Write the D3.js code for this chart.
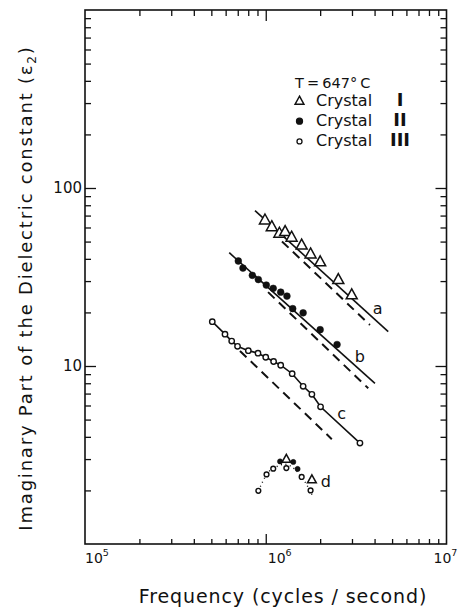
<!DOCTYPE html>
<html><head><meta charset="utf-8">
<script src="https://cdn.jsdelivr.net/npm/d3@7"></script>
<style>
body{margin:0;background:#fff}
svg{display:block}
text{font-family:"DejaVu Sans",sans-serif;fill:#111}
</style>
</head><body><div id="chart"></div>
<script>
// frequency (Hz), eps2
const crystalI = [[0.99e6,66.1],[1.08e6,60.6],[1.19e6,55.7],[1.28e6,56.9],[1.39e6,52.9],[1.58e6,47.8],[1.77e6,42.6],[2.0e6,38.5],[2.52e6,30.6],[2.99e6,25.1]];
const crystalII = [[0.705e6,38.9],[0.748e6,35.5],[0.843e6,32.3],[0.91e6,30.6],[1.007e6,28.5],[1.10e6,27.3],[1.21e6,26.0],[1.31e6,24.7],[1.41e6,21.0],[1.61e6,19.9],[2.0e6,16.0],[2.48e6,13.2]];
const crystalIII = [[0.506e6,17.75],[0.595e6,15.1],[0.648e6,13.8],[0.698e6,12.9],[0.801e6,12.2],[0.906e6,11.8],[1.0e6,11.2],[1.105e6,10.6],[1.21e6,10.1],[1.40e6,9.05],[1.61e6,7.69],[1.80e6,6.93],[2.01e6,5.90],[3.32e6,3.69]];
// curve d (mixed crystals)
const dCircles = [[0.91e6,1.99],[1.01e6,2.46],[1.10e6,2.65],[1.30e6,2.67],[1.58e6,2.38],[1.77e6,2.0]];
const dDots = [[1.20e6,2.91],[1.42e6,2.89],[1.50e6,2.64]];
const dTriangles = [[1.30e6,3.0],[1.80e6,2.30]];
const dTrail = [[0.91e6,1.99],[1.01e6,2.46],[1.10e6,2.65],[1.30e6,2.8],[1.58e6,2.38],[1.83e6,1.84]];
// fitted (solid) and reference (dashed) lines
const fitA = [[0.872e6,74.6],[4.76e6,15.6]];
const fitB = [[0.628e6,43.3],[4.02e6,7.99]];
const refA = [[1.23e6,50.1],[3.77e6,17.0]];
const refB = [[1.03e6,26.0],[3.69e6,7.49]];
const refC = [[0.72e6,12.15],[2.32e6,3.88]];
const curveLabels = [["a",4.16e6,21.1],["b",3.32e6,11.3],["c",2.63e6,5.42],["d",2.15e6,2.24]];
const xDecades = [1e5,1e6,1e7];
const yDecades = [1,10,100,1000];
const yLabels = [10,100];
const legendRows = [["tri","Crystal","I"],["dot","Crystal","II"],["circ","Crystal","III"]];

const W = 460, H = 612;
const svg = d3.select('#chart').append('svg').attr('width', W).attr('height', H);
const x = d3.scaleLog().domain([1e5,1e7]).range([85,446.5]);
const y = d3.scaleLog().domain([1,1000]).range([544,10]);

const minor = (decs) => decs.slice(0,-1).flatMap(d => d3.range(2,10).map(k => d*k));
const xMinor = minor(xDecades), yMinor = minor(yDecades);

function ticks(axis, t, vals, size) {
  const g = svg.append('g').attr('transform', t).call(axis.tickValues(vals).tickSize(size).tickFormat(''));
  g.select('.domain').remove();
  g.selectAll('line').attr('stroke','#111').attr('stroke-width',1.3);
}
const [x0,x1] = x.range(), [y0,y1] = y.range();
ticks(d3.axisBottom(x), `translate(0,${y0})`, xMinor, -5);
ticks(d3.axisBottom(x), `translate(0,${y0})`, [1e6], -10);
ticks(d3.axisTop(x), `translate(0,${y1})`, xMinor, -6);
ticks(d3.axisTop(x), `translate(0,${y1})`, [1e6], -11);
ticks(d3.axisLeft(y), `translate(${x0},0)`, yMinor, -6);
ticks(d3.axisLeft(y), `translate(${x0},0)`, [10,100], -11);
ticks(d3.axisRight(y), `translate(${x1},0)`, yMinor, -6);
ticks(d3.axisRight(y), `translate(${x1},0)`, [10,100], -11);

svg.append('rect').attr('x',x0).attr('y',y1).attr('width',x1-x0).attr('height',y0-y1)
  .attr('fill','none').attr('stroke','#111').attr('stroke-width',1.6);

// tick labels
const xdx = [0,2,-13];
xDecades.forEach((d,i) => {
  const t = svg.append('text').attr('x', x(d)+xdx[i]).attr('y', y0+19).attr('font-size',14);
  t.append('tspan').text('10');
  t.append('tspan').attr('font-size',9.5).attr('dy',-7).text(Math.log10(d));
});
yLabels.forEach(v => {
  svg.append('text').attr('x', x0-3).attr('y', y(v)).attr('text-anchor','end')
    .attr('dominant-baseline','central').attr('font-size',15).text(v);
});

// axis titles
svg.append('text').attr('x', 283).attr('y', 603).attr('text-anchor','middle').attr('font-size',19)
  .attr('letter-spacing',0.9).text('Frequency (cycles / second)');
const yt = svg.append('text').attr('transform','translate(32,288) rotate(-90)').attr('text-anchor','middle')
  .attr('font-size',18).attr('letter-spacing',1.8);
yt.append('tspan').text('Imaginary Part of the Dielectric constant (ε');
yt.append('tspan').attr('font-size',12).attr('dy',4).text('2');
yt.append('tspan').attr('dy',-4).text(')');

const line = d3.line().x(d => x(d[0])).y(d => y(d[1]));
[fitA, fitB].forEach(l => svg.append('path').attr('d', line(l)).attr('fill','none').attr('stroke','#111').attr('stroke-width',1.6));
svg.append('path').attr('d', line(crystalIII)).attr('fill','none').attr('stroke','#111').attr('stroke-width',1.6);
[refA, refB, refC].forEach(l => svg.append('path').attr('d', line(l)).attr('fill','none').attr('stroke','#111')
  .attr('stroke-width',2).attr('stroke-dasharray','9,6'));
svg.append('path').attr('d', line.curve(d3.curveNatural)(dTrail)).attr('fill','none').attr('stroke','#111')
  .attr('stroke-width',1.4).attr('stroke-dasharray','1,3.5');
line.curve(d3.curveLinear);

const tri = s => `M0,${-s*0.6}L${s*0.55},${s*0.4}L${-s*0.55},${s*0.4}Z`;
function triangles(data, s) {
  svg.append('g').selectAll('path').data(data).join('path')
    .attr('transform', d => `translate(${x(d[0])},${y(d[1])})`).attr('d', tri(s))
    .attr('fill','#fff').attr('stroke','#111').attr('stroke-width',1.5);
}
function circles(data, r, filled) {
  svg.append('g').selectAll('circle').data(data).join('circle')
    .attr('cx', d => x(d[0])).attr('cy', d => y(d[1])).attr('r', r)
    .attr('fill', filled ? '#111' : '#fff').attr('stroke','#111').attr('stroke-width', filled ? 0.5 : 1.4);
}
triangles(crystalI, 10);
circles(crystalII, 3.4, true);
circles(crystalIII, 2.7, false);
circles(dCircles, 2.4, false);
circles(dDots, 2.6, true);
triangles(dTriangles, 8);

curveLabels.forEach(([t,f,e]) => svg.append('text').attr('x', x(f)).attr('y', y(e))
  .attr('text-anchor','middle').attr('dominant-baseline','central').attr('font-size',16).text(t));

// legend
svg.append('text').attr('x',295).attr('y',88).attr('font-size',14.5).attr('word-spacing',-1.5).text('T = 647° C');
legendRows.forEach(([m,lab,num],i) => {
  const by = 106 + i*20.2, cy = by-5;
  if (m === 'tri') svg.append('path').attr('transform',`translate(299.5,${cy})`).attr('d',tri(8))
    .attr('fill','#fff').attr('stroke','#111').attr('stroke-width',1.5);
  else svg.append('circle').attr('cx',299.5).attr('cy',cy).attr('r', m==='dot'?3:2.5)
    .attr('fill', m==='dot'?'#111':'#fff').attr('stroke','#111').attr('stroke-width',1.3);
  svg.append('text').attr('x',316).attr('y',by).attr('font-size',16).text(lab);
  svg.append('text').attr('x',400).attr('y',by).attr('text-anchor','middle')
    .attr('font-family','"Liberation Serif",serif').attr('font-size',18).attr('font-weight','bold').text(num);
});
</script>
</body></html>
